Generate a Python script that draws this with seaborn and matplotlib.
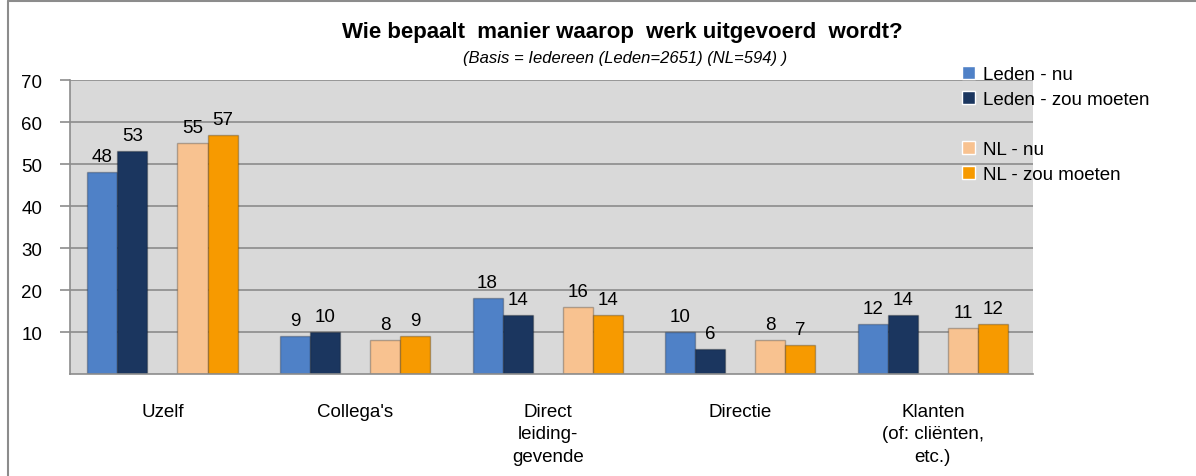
import numpy as np
import pandas as pd
import seaborn as sns
import matplotlib.pyplot as plt
from matplotlib.lines import Line2D
from matplotlib.patches import Patch

# =============================================================================
categories = ["Uzelf", "Collega's", "Direct\nleiding-\ngevende", "Directie",
              "Klanten\n(of: cliënten,\netc.)"]
leden_nu = [48, 9, 18, 10, 12]
leden_zou = [53, 10, 14, 6, 14]
nl_nu = [55, 8, 16, 8, 11]
nl_zou = [57, 9, 14, 7, 12]

series = ["Leden - nu", "Leden - zou moeten", " ", "NL - nu", "NL - zou moeten"]
colors = ["#4F81C7", "#1B365F", "#D9D9D9", "#F8C290", "#F79A00"]
# =============================================================================

sns.set_style("white")
plt.rcParams['font.family'] = ['Liberation Sans', 'DejaVu Sans']
plt.rcParams['text.color'] = 'black'
plt.rcParams['xtick.color'] = 'black'
plt.rcParams['ytick.color'] = 'black'

rows = []
for s, vals in zip(series, [leden_nu, leden_zou, [0] * 5, nl_nu, nl_zou]):
    for c, v in zip(categories, vals):
        rows.append({"cat": c, "serie": s, "waarde": v})
df = pd.DataFrame(rows)

fig = plt.figure(figsize=(11.96, 4.77), dpi=100)
ax = fig.add_axes([70 / 1196, 102 / 477, 963 / 1196, 294 / 477])
ax.set_facecolor("#D9D9D9")
ax.set_axisbelow(True)
ax.yaxis.grid(True, color="#8C8C8C", linewidth=1.2)

sns.barplot(data=df, x="cat", y="waarde", hue="serie", hue_order=series,
            order=categories, palette=colors, width=0.78, gap=0.0,
            saturation=1, legend=False, ax=ax)

for i, cont in enumerate(ax.containers):
    if i == 2:
        for bar in cont:
            bar.set_visible(False)
        continue
    for bar in cont:
        bar.set_edgecolor("#00000040")
        bar.set_linewidth(1)
    ax.bar_label(cont, padding=5, fontsize=13.5, color="black")

ax.set_ylim(0, 70)
ax.set_yticks(range(10, 80, 10))
ax.set_xlim(-0.48, 4.52)
ax.set_xlabel("")
ax.set_ylabel("")
ax.set_xticks(np.arange(-0.48, 5.0, 1.0), minor=False)
ax.set_xticklabels([""] * 6)
ax.set_xticks(range(5), minor=True)
ax.set_xticklabels(categories, minor=True, fontsize=13.5, linespacing=1.4,
                   va="top")
ax.tick_params(axis="x", which="minor", length=0, pad=21)
ax.tick_params(axis="x", which="major", length=7, color="#8C8C8C", width=1.2,
               direction="out")
ax.tick_params(axis="y", length=7, color="#8C8C8C", width=1.2,
               labelsize=13.5, pad=13, left=True, labelcolor="black")
for side in ["top", "right"]:
    ax.spines[side].set_visible(False)
for side in ["left", "bottom"]:
    ax.spines[side].set_color("#8C8C8C")
    ax.spines[side].set_linewidth(1.2)

fig.text(0.52, 0.932, "Wie bepaalt  manier waarop  werk uitgevoerd  wordt?",
         ha="center", va="center", fontsize=16, fontweight="bold")
fig.text(0.523, 0.878, "(Basis = Iedereen (Leden=2651) (NL=594) )",
         ha="center", va="center", fontsize=12, style="italic")

handles = [Patch(facecolor=colors[0]), Patch(facecolor=colors[1]),
           Patch(facecolor="none", edgecolor="none"),
           Patch(facecolor=colors[3]), Patch(facecolor=colors[4])]
fig.legend(handles, series, loc="upper left", bbox_to_anchor=(0.798, 0.876),
           frameon=False, fontsize=13.5, handlelength=0.7, handleheight=0.7,
           handletextpad=0.4, labelspacing=0.42, borderaxespad=0)

# chart frame
fig.add_artist(Line2D([8 / 1196, 8 / 1196], [0, 1 - 2 / 477],
                      color="#8C8C8C", linewidth=1.5))
fig.add_artist(Line2D([8 / 1196, 1], [1 - 2 / 477, 1 - 2 / 477],
                      color="#8C8C8C", linewidth=1.5))

fig.savefig("out.png", dpi=100)
